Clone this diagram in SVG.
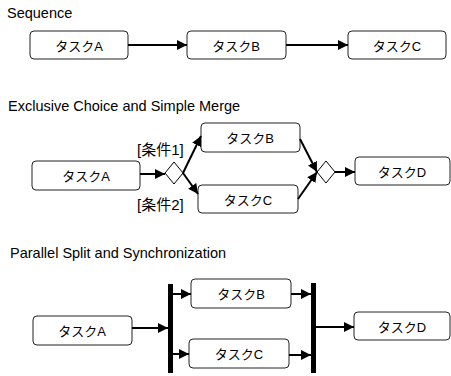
<svg xmlns="http://www.w3.org/2000/svg" width="451" height="376" viewBox="0 0 451 376">
<defs>
<style>
.title{font-family:"Liberation Sans","Noto Sans CJK JP",sans-serif;font-size:14.5px;fill:#000}
.box rect{fill:#fff;stroke:#222;stroke-width:1}
.box text{font-family:"Liberation Sans","Noto Sans CJK JP",sans-serif;font-size:13px;fill:#000;text-anchor:middle;dominant-baseline:central}
.cond{font-family:"Liberation Sans","Noto Sans CJK JP",sans-serif;font-size:15px;fill:#000}
.conn path{fill:none;stroke:#000;stroke-width:2}
.gw{fill:#fff;stroke:#000;stroke-width:1}
.bar{fill:#000}
</style>
<marker id="ah" viewBox="0 0 10 10" refX="10" refY="5" markerWidth="10" markerHeight="10" markerUnits="userSpaceOnUse" orient="auto">
<path d="M0,0 L10,5 L0,10 z" fill="#000"/>
</marker>
</defs>
<rect width="451" height="376" fill="#fff"/>

<text class="title" x="7" y="18">Sequence</text>
<text class="title" x="8" y="111">Exclusive Choice and Simple Merge</text>
<text class="title" x="10" y="258">Parallel Split and Synchronization</text>

<g id="seqA" class="box"><rect x="30" y="31" width="98" height="28" rx="4"/><text x="79" y="46">タスクA</text></g>
<g id="seqB" class="box"><rect x="187" y="31" width="99" height="28" rx="4"/><text x="236" y="46">タスクB</text></g>
<g id="seqC" class="box"><rect x="348" y="31" width="98" height="28" rx="4"/><text x="397" y="46">タスクC</text></g>

<g id="exA" class="box"><rect x="32" y="161" width="108" height="29" rx="4"/><text x="86" y="176">タスクA</text></g>
<g id="exB" class="box"><rect x="201" y="123" width="99" height="29" rx="4"/><text x="250" y="138">タスクB</text></g>
<g id="exC" class="box"><rect x="198" y="185" width="100" height="28" rx="4"/><text x="248" y="200">タスクC</text></g>
<g id="exD" class="box"><rect x="355" y="157" width="95" height="28" rx="4"/><text x="402" y="172">タスクD</text></g>
<g id="exSplit"><polygon class="gw" points="165,173 174,162 183,173 174,184"/></g>
<g id="exMerge"><polygon class="gw" points="317,172 326,161 335,172 326,183"/></g>
<g id="cond1"><text class="cond" x="137" y="155">[条件1]</text></g>
<g id="cond2"><text class="cond" x="137" y="210">[条件2]</text></g>

<g id="paA" class="box"><rect x="33" y="316" width="99" height="29" rx="4"/><text x="82" y="331">タスクA</text></g>
<g id="paB" class="box"><rect x="191" y="279" width="100" height="29" rx="4"/><text x="241" y="294">タスクB</text></g>
<g id="paC" class="box"><rect x="189" y="339" width="100" height="29" rx="4"/><text x="239" y="354">タスクC</text></g>
<g id="paD" class="box"><rect x="354" y="312" width="96" height="28" rx="4"/><text x="402" y="327">タスクD</text></g>
<g id="paSplit"><rect class="bar" x="168" y="284" width="5" height="89"/></g>
<g id="paJoin"><rect class="bar" x="311" y="283" width="5" height="90"/></g>

<g id="connectors" class="conn">
<path d="M128,45 H187" marker-end="url(#ah)"/>
<path d="M286,45 H348" marker-end="url(#ah)"/>
<path d="M140,174 H165" marker-end="url(#ah)"/>
<path d="M183,173 L201,136" marker-end="url(#ah)"/>
<path d="M183,173 L198,194" marker-end="url(#ah)"/>
<path d="M300,139 L317,172" marker-end="url(#ah)"/>
<path d="M298,199 L317,172" marker-end="url(#ah)"/>
<path d="M335,172 H355" marker-end="url(#ah)"/>
<path d="M132,328 H168" marker-end="url(#ah)"/>
<path d="M173,294 H191" marker-end="url(#ah)"/>
<path d="M173,354 H189" marker-end="url(#ah)"/>
<path d="M291,294 H311" marker-end="url(#ah)"/>
<path d="M289,355 H311" marker-end="url(#ah)"/>
<path d="M316,327 H354" marker-end="url(#ah)"/>
</g>
</svg>
